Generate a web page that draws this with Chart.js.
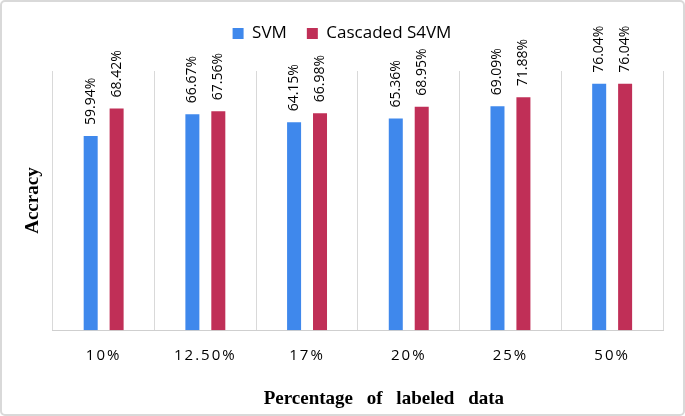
<!DOCTYPE html>
<html>
<head>
<meta charset="utf-8">
<script src="https://cdn.jsdelivr.net/npm/chart.js@4"></script>
<style>
  html, body { margin: 0; padding: 0; background: #ffffff; }
  #caja { width: 685px; height: 416px; position: relative; }
</style>
</head>
<body>
<div id="caja"><canvas id="grafico"></canvas></div>
<script>
// datos
const porcentajes = ['10%', '12.50%', '17%', '20%', '25%', '50%'];
const valores_svm = [59.94, 66.67, 64.15, 65.36, 69.09, 76.04];
const valores_s4vm = [68.42, 67.56, 66.98, 68.95, 71.88, 76.04];
const nombres_series = ['SVM', 'Cascaded S4VM'];

// marco gris + pequeños ajustes de dibujo de textos
const plugin_marco = {
    id: 'marco',
    afterInit(chart) {
        // la leyenda deja mas espacio debajo
        const lg = chart.legend;
        if (lg && !lg._ajustada) {
            const fit_original = lg.fit.bind(lg);
            lg.fit = function () {
                fit_original();
                this.height += 19;
            };
            lg._ajustada = true;
        }
    },
    beforeDraw(chart) {
        const ctx = chart.ctx;
        ctx.save();
        ctx.fillStyle = '#ffffff';
        ctx.fillRect(0, 0, chart.width, chart.height);
        ctx.strokeStyle = '#d9d9d9';
        ctx.lineWidth = 2;
        ctx.beginPath();
        ctx.roundRect(1, 1, chart.width - 2, chart.height - 2, 4);
        ctx.stroke();
        ctx.restore();

        const ex = chart.scales.x;
        if (ex && !ex._espaciado) {
            // etiquetas del eje x con espacio entre letras
            const etiquetas_original = ex.drawLabels.bind(ex);
            ex.drawLabels = function (area) {
                chart.ctx.save();
                chart.ctx.letterSpacing = '2px';
                etiquetas_original(area);
                chart.ctx.restore();
            };
            // titulo del eje x con palabras separadas y algo corrido
            const titulo_original = ex.drawTitle.bind(ex);
            ex.drawTitle = function () {
                chart.ctx.save();
                chart.ctx.wordSpacing = '9px';
                chart.ctx.translate(26, 0);
                titulo_original();
                chart.ctx.restore();
            };
            ex._espaciado = true;
        }
    }
};

// etiquetas de valor, giradas, encima de cada barra
const plugin_etiquetas = {
    id: 'etiquetas',
    afterDatasetsDraw(chart) {
        const ctx = chart.ctx;
        ctx.save();
        ctx.font = '14px "Open Sans"';
        ctx.fillStyle = '#000000';
        ctx.textAlign = 'left';
        ctx.textBaseline = 'middle';
        chart.data.datasets.forEach((ds, i) => {
            const meta = chart.getDatasetMeta(i);
            meta.data.forEach((barra, j) => {
                ctx.save();
                ctx.translate(barra.x, barra.y - 11);
                ctx.rotate(-Math.PI / 2);
                ctx.fillText(ds.data[j].toFixed(2) + '%', 0, 0);
                ctx.restore();
            });
        });
        ctx.restore();
    }
};

new Chart(document.getElementById('grafico'), {
    type: 'bar',
    data: {
        labels: porcentajes,
        datasets: [
            {
                label: nombres_series[0],
                data: valores_svm,
                backgroundColor: '#3f88ec',
                barPercentage: 0.54,
                categoryPercentage: 0.51
            },
            {
                label: nombres_series[1],
                data: valores_s4vm,
                backgroundColor: '#c02f57',
                barPercentage: 0.54,
                categoryPercentage: 0.51
            }
        ]
    },
    options: {
        responsive: true,
        maintainAspectRatio: false,
        animation: false,
        layout: { padding: { top: 5, left: 21, right: 22, bottom: 2 } },
        plugins: {
            legend: {
                position: 'top',
                labels: {
                    boxWidth: 11,
                    boxHeight: 11,
                    padding: 20,
                    color: '#000000',
                    font: { family: 'Open Sans', size: 17 }
                }
            },
            tooltip: { enabled: false }
        },
        scales: {
            x: {
                grid: { color: '#d9d9d9', drawTicks: false },
                border: { color: '#cfcfcf' },
                ticks: {
                    color: '#000000',
                    padding: 17,
                    font: { family: 'Open Sans', size: 15 }
                },
                title: {
                    display: true,
                    text: 'Percentage of labeled data',
                    color: '#000000',
                    padding: { top: 5 },
                    font: { family: 'Liberation Serif', size: 19, weight: 'bold' }
                }
            },
            y: {
                min: 0,
                max: 80,
                grid: { display: false },
                border: { display: false },
                ticks: { display: false },
                title: {
                    display: true,
                    text: 'Accracy',
                    color: '#000000',
                    padding: 0.5,
                    font: { family: 'Liberation Serif', size: 19, weight: 'bold' }
                }
            }
        }
    },
    plugins: [plugin_marco, plugin_etiquetas]
});
</script>
</body>
</html>
